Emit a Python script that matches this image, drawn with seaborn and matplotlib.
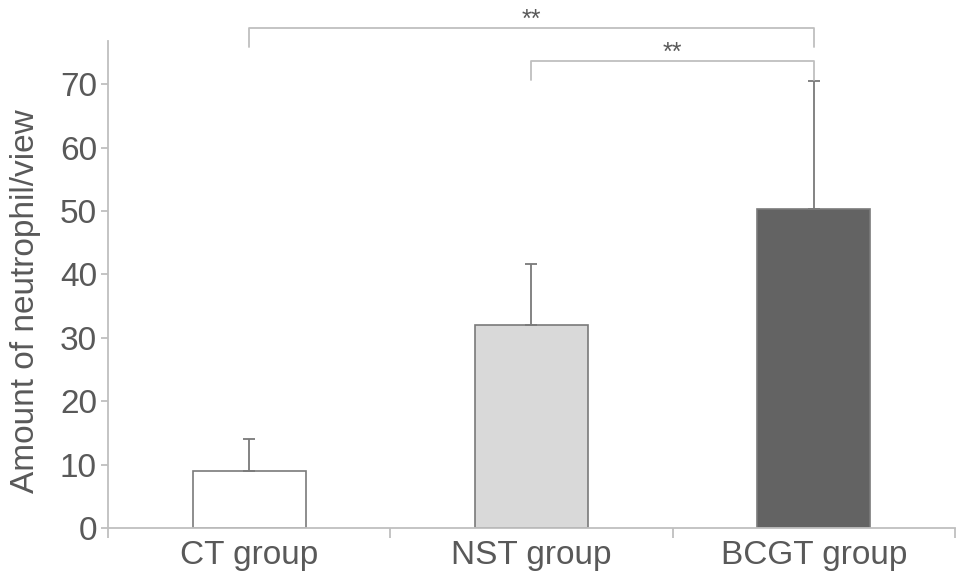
import matplotlib
matplotlib.use("Agg")
import matplotlib.pyplot as plt
import seaborn as sns
import pandas as pd

# values
groups = ["CT group", "NST group", "BCGT group"]
means = [9.0, 32.0, 50.3]
sd_upper = [5.0, 9.6, 20.2]
bar_colors = ["#ffffff", "#d9d9d9", "#636363"]
# significance brackets: (left group, right group, height, label)
brackets = [(0, 2, 78.8, "**"), (1, 2, 73.6, "**")]

sns.set_style("white")
plt.rcParams["font.family"] = ["Liberation Sans", "DejaVu Sans"]

axis_grey = "#bfbfbf"
text_grey = "#595959"

df = pd.DataFrame({"group": groups, "mean": means})

fig = plt.figure(figsize=(9.69, 5.88), dpi=100)
ax = fig.add_axes([0.1115, 0.102, 0.874, 0.828])

sns.barplot(data=df, x="group", y="mean", hue="group", palette=bar_colors,
            legend=False, width=0.4, edgecolor="#7a7a7a", linewidth=1.2,
            errorbar=None, ax=ax)

ax.errorbar(range(len(groups)), means, yerr=[[0] * len(groups), sd_upper],
            fmt="none", ecolor="#7a7a7a", elinewidth=1.3, capsize=4,
            capthick=1.3, zorder=1)

ax.set_xlim(-0.5, 2.5)
ax.set_ylim(0, 76.8)
ax.set_yticks(range(0, 71, 10))

for side in ["top", "right"]:
    ax.spines[side].set_visible(False)
for side in ["left", "bottom"]:
    ax.spines[side].set_color(axis_grey)
    ax.spines[side].set_linewidth(1.3)

ax.tick_params(axis="y", which="major", left=True, length=5, width=1.3,
               color=axis_grey, labelsize=24, labelcolor=text_grey, pad=3)
ax.tick_params(axis="x", which="major", bottom=False, labelsize=24,
               labelcolor=text_grey, pad=5)
ax.set_xticks([-0.5, 0.5, 1.5, 2.5], minor=True)
ax.tick_params(axis="x", which="minor", bottom=True, length=7, width=1.3,
               color=axis_grey)

ax.set_xlabel("")
ax.set_ylabel("Amount of neutrophil/view", fontsize=24, color=text_grey)
ax.yaxis.set_label_coords(-0.079, 0.466)

# significance brackets
for left, right, h, label in brackets:
    ax.plot([left, left, right, right], [h - 2.9, h, h, h - 2.9],
            color=axis_grey, lw=1.3, clip_on=False)
    ax.text((left + right) / 2, h - 0.6, label, ha="center", va="bottom",
            fontsize=18, color=text_grey, clip_on=False)

plt.savefig("out.png", dpi=100)
